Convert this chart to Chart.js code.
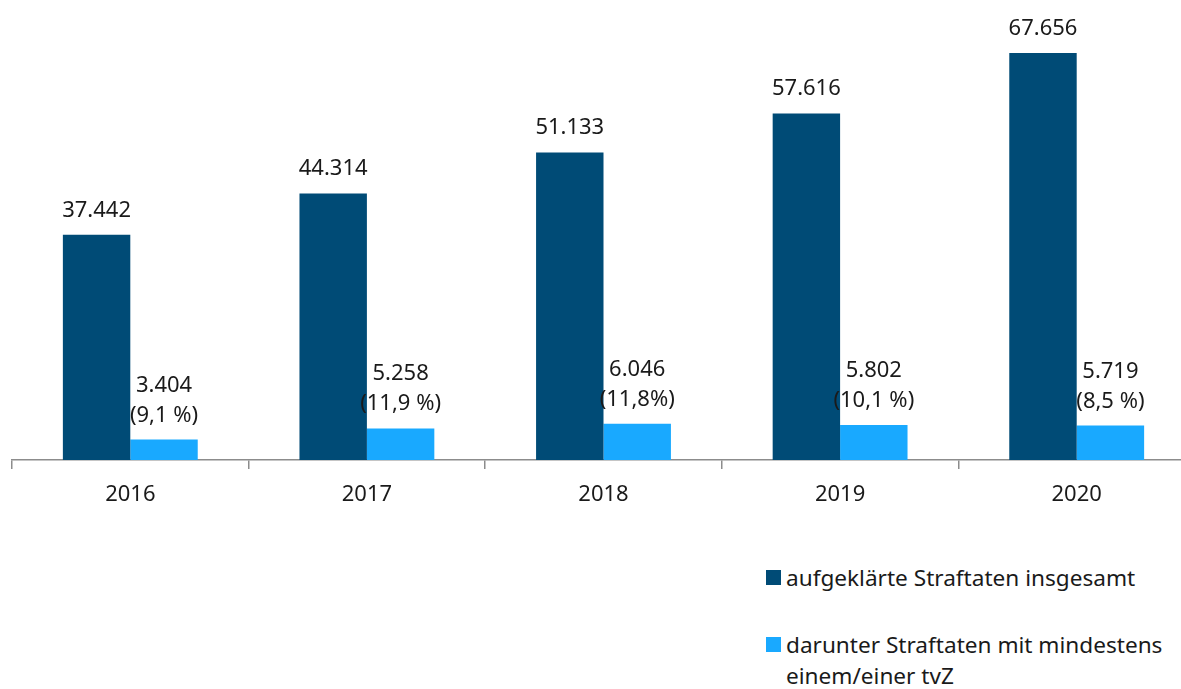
<!DOCTYPE html>
<html lang="de">
<head>
<meta charset="utf-8">
<script src="https://cdn.jsdelivr.net/npm/chart.js@4"></script>
<style>
  html, body { margin: 0; padding: 0; background: #fff; overflow: hidden; }
  body { width: 1181px; height: 689px; position: relative; font-family: 'Noto Sans', sans-serif; color: #1a1a1a; }
  #wrap { position: absolute; left: 0; top: 0; width: 1200px; height: 520px; }
  .legend { position: absolute; left: 766px; font-size: 22.6px; line-height: 31px; }
  .legend .sw { position: absolute; left: 0; top: 8px; width: 15px; height: 15px; }
  .legend .tx { margin-left: 20px; }
</style>
</head>
<body>
<div id="wrap"><canvas id="chart"></canvas></div>
<div class="legend" style="top:562px"><span class="sw" style="background:#004B76"></span><div class="tx">aufgeklärte Straftaten insgesamt</div></div>
<div class="legend" style="top:629px"><span class="sw" style="background:#19A9FF"></span><div class="tx">darunter Straftaten mit mindestens<br>einem/einer tvZ</div></div>
<script>
// ── DATA ─────────────────────────────────────────────────────
const years = ['2016', '2017', '2018', '2019', '2020'];
const totalSolved = [37442, 44314, 51133, 57616, 67656];
const withTvz = [3404, 5258, 6046, 5802, 5719];
const tvzShare = ['(9,1 %)', '(11,9 %)', '(11,8%)', '(10,1 %)', '(8,5 %)'];

const DARK = '#004B76';
const LIGHT = '#19A9FF';
const FONT = "'Noto Sans', sans-serif";

// ── HELPERS ──────────────────────────────────────────────────
function formatDE(n) {
  return String(n).replace(/\B(?=(\d{3})+(?!\d))/g, '.');
}

// value labels above bars
const barLabels = {
  id: 'barLabels',
  afterDatasetsDraw(chart) {
    const ctx = chart.ctx;
    ctx.save();
    ctx.font = '22px ' + FONT;
    ctx.fillStyle = '#1a1a1a';
    ctx.textAlign = 'center';
    ctx.textBaseline = 'alphabetic';
    chart.getDatasetMeta(0).data.forEach((bar, i) => {
      ctx.fillText(formatDE(totalSolved[i]), bar.x, bar.y - 18);
    });
    chart.getDatasetMeta(1).data.forEach((bar, i) => {
      ctx.fillText(tvzShare[i], bar.x, bar.y - 18);
      ctx.fillText(formatDE(withTvz[i]), bar.x, bar.y - 48);
    });
    ctx.restore();
  }
};

// ── CHART ────────────────────────────────────────────────────
new Chart(document.getElementById('chart'), {
  type: 'bar',
  data: {
    labels: years,
    datasets: [
      { label: 'aufgeklärte Straftaten insgesamt', data: totalSolved, backgroundColor: DARK },
      { label: 'darunter Straftaten mit mindestens einem/einer tvZ', data: withTvz, backgroundColor: LIGHT }
    ]
  },
  options: {
    responsive: true,
    maintainAspectRatio: false,
    animation: false,
    layout: { padding: { left: 12, right: 5, top: 39, bottom: 0 } },
    datasets: { bar: { categoryPercentage: 0.57, barPercentage: 1.0 } },
    plugins: { legend: { display: false }, tooltip: { enabled: false } },
    scales: {
      x: {
        grid: { offset: true, drawOnChartArea: false, color: '#8c8c8c', tickLength: 9, lineWidth: 1.5 },
        border: { color: '#8c8c8c', width: 1.5 },
        ticks: { color: '#1a1a1a', font: { family: FONT, size: 22 }, padding: 13 },
        afterFit: s => { s.height = 60; }
      },
      y: {
        display: false,
        min: 0,
        max: 70000
      }
    }
  },
  plugins: [barLabels]
});
</script>
</body>
</html>
